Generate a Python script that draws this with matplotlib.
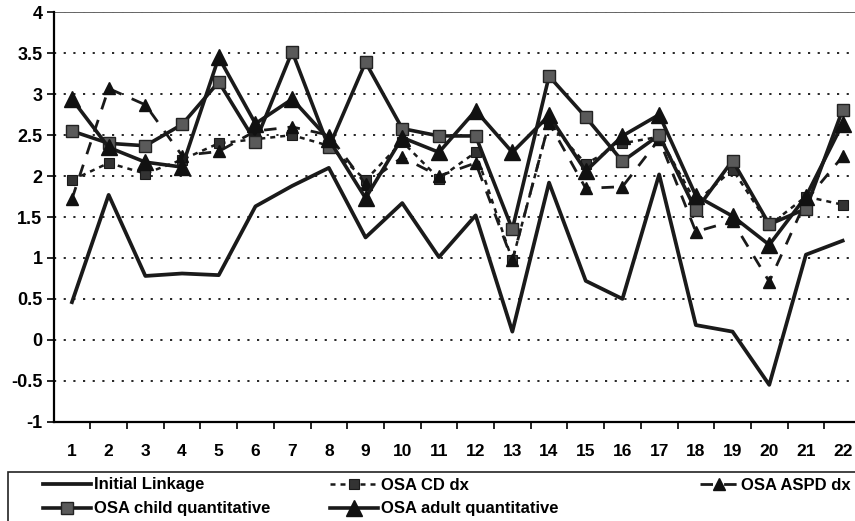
import matplotlib
matplotlib.use("Agg")
import matplotlib.pyplot as plt
from matplotlib.patches import Rectangle
from matplotlib.ticker import FixedLocator, FormatStrFormatter
import numpy as np

plt.rcParams['font.family'] = ['Liberation Sans', 'DejaVu Sans']
plt.rcParams['font.weight'] = 'bold'

markers_x = list(range(1, 23))

initial_linkage = [0.46, 1.77, 0.78, 0.81, 0.79, 1.63, 1.88, 2.10, 1.25, 1.67, 1.01,
                   1.52, 0.10, 1.92, 0.72, 0.50, 2.02, 0.18, 0.10, -0.55, 1.04, 1.21]
osa_cd_dx = [1.95, 2.16, 2.03, 2.20, 2.40, 2.45, 2.50, 2.37, 1.95, 2.42, 1.97,
             2.29, 0.97, 2.65, 2.15, 2.40, 2.48, 1.68, 2.08, 1.40, 1.75, 1.65]
osa_aspd_dx = [1.72, 3.07, 2.87, 2.25, 2.30, 2.55, 2.60, 2.50, 1.90, 2.23, 2.00,
               2.16, 0.97, 2.65, 1.85, 1.87, 2.45, 1.32, 1.45, 0.71, 1.70, 2.24]
osa_child = [2.55, 2.40, 2.37, 2.63, 3.15, 2.42, 3.52, 2.35, 3.39, 2.58, 2.49,
             2.49, 1.35, 3.22, 2.72, 2.18, 2.50, 1.58, 2.19, 1.41, 1.60, 2.81]
osa_adult = [2.94, 2.35, 2.17, 2.11, 3.45, 2.64, 2.94, 2.45, 1.73, 2.47, 2.29,
             2.80, 2.29, 2.74, 2.06, 2.49, 2.75, 1.76, 1.51, 1.16, 1.75, 2.64]

W, H = 855, 521
fig = plt.figure(figsize=(W / 100, H / 100), dpi=100)
ax = fig.add_axes([53.6 / W, 1 - 421.7 / H, 1 - 53.6 / W, (421.7 - 12.3) / H])

ax.set_xlim(0.5, 0.5 + (W - 53.6) / 36.7)
ax.set_ylim(-1, 4)

# gridlines
for yv in np.arange(-0.5, 4.01, 0.5):
    ax.axhline(yv, color='black', lw=1.2, dashes=(1.3, 4.5), zorder=0)
ax.axhline(4, color='#666666', lw=1.4, zorder=0)

l_il, = ax.plot(markers_x, initial_linkage, color='#1a1a1a', lw=2.7,
                label='Initial Linkage', zorder=2)
l_cd, = ax.plot(markers_x, osa_cd_dx, color='#1a1a1a', lw=1.8, dashes=(2.0, 2.0),
                marker='s', ms=7, mfc='#333333', mec='#1a1a1a', mew=0.8,
                label='OSA CD dx', zorder=3)
l_aspd, = ax.plot(markers_x, osa_aspd_dx, color='#1a1a1a', lw=2.0, dashes=(4.5, 4.0),
                  marker='^', ms=8, mfc='#111111', mec='#111111',
                  label='OSA ASPD dx', zorder=3)
l_child, = ax.plot(markers_x, osa_child, color='#1a1a1a', lw=2.6,
                   marker='s', ms=8.5, mfc='#5a5a5a', mec='#222222', mew=1.0,
                   label='OSA child quantitative', zorder=4)
l_adult, = ax.plot(markers_x, osa_adult, color='#1a1a1a', lw=2.6,
                   marker='^', ms=11, mfc='#111111', mec='#111111',
                   label='OSA adult quantitative', zorder=5)

# axes styling
ax.spines['right'].set_visible(False)
ax.spines['top'].set_visible(False)
ax.spines['left'].set_linewidth(1.6)
ax.spines['bottom'].set_linewidth(1.6)

ax.set_yticks(np.arange(-1, 4.01, 0.5))
ax.yaxis.set_major_formatter(FormatStrFormatter('%g'))
ax.tick_params(axis='y', length=5, width=1.2, direction='out', pad=3, labelsize=13)

ax.set_xticks(markers_x)
ax.set_xticklabels([str(v) for v in markers_x])
ax.xaxis.set_minor_locator(FixedLocator(np.arange(1.5, 22.6, 1)))
ax.tick_params(axis='x', which='major', length=0, pad=16, labelsize=12.5)
ax.tick_params(axis='x', which='minor', length=5, width=1.2, direction='out')

# legend box
fig.patches.append(Rectangle((8 / W, -0.01), 1.0, 0.01 + 1 - 472 / H,
                             transform=fig.transFigure, fill=False,
                             edgecolor='#222222', lw=1.2))

def put_legend(handle, x_px, y_px, hl=2.9):
    lg = fig.legend([handle], [handle.get_label()], loc='center left',
                    bbox_to_anchor=(x_px / W, 1 - y_px / H),
                    frameon=False, borderpad=0, borderaxespad=0,
                    handlelength=hl, handletextpad=0.15,
                    prop={'size': 12, 'weight': 'bold'})
    return lg

put_legend(l_il, 43, 485)
put_legend(l_child, 43, 509)
put_legend(l_cd, 330, 485)
put_legend(l_adult, 330, 509)
put_legend(l_aspd, 700, 485, hl=2.3)

fig.savefig('out.png', dpi=100)
